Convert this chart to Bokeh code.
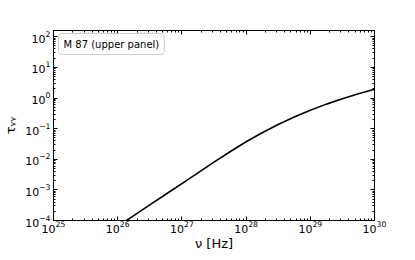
from bokeh.plotting import figure
from bokeh.models import LogAxis, Label, Range1d, LogTicker, CustomJSTickFormatter
from bokeh.embed import file_html
from bokeh.resources import INLINE

# data (log-log curve)
nu = [1.0e26, 1.78e26, 3.16e26, 5.62e26, 1.0e27, 1.78e27, 3.16e27, 5.62e27, 1.0e28,
      1.78e28, 3.16e28, 5.62e28, 1.0e29, 1.78e29, 3.16e29, 5.62e29, 1.0e30]
tau = [6.42e-5, 1.44e-4, 3.22e-4, 7.20e-4, 1.61e-3, 3.61e-3, 8.04e-3, 1.76e-2, 3.72e-2,
       7.37e-2, 0.137, 0.241, 0.400, 0.631, 0.950, 1.37, 1.92]

legend_text = "M 87 (upper panel)"
x_label = "ν [Hz]"
y_label = "τᵧᵧ"

FONT = "DejaVu Sans"

p = figure(frame_width=321, frame_height=190, x_axis_type="log", y_axis_type="log",
           x_range=Range1d(1e25, 1e30), y_range=Range1d(1e-4, 1.6e2),
           output_backend="svg", toolbar_location=None,
           min_border_left=44, min_border_right=34, min_border_top=30, min_border_bottom=28)

p.line(nu, tau, line_color="black", line_width=1.6)

p.xgrid.visible = False
p.ygrid.visible = False
p.outline_line_color = "black"
p.outline_line_width = 1
p.background_fill_color = "white"
p.border_fill_color = "white"

for ax in (p.xaxis[0], p.yaxis[0]):
    ax.ticker.num_minor_ticks = 10
    ax.major_tick_in = 4
    ax.major_tick_out = 0
    ax.minor_tick_in = 2
    ax.minor_tick_out = 0
    ax.axis_line_color = "black"
    ax.major_tick_line_color = "black"
    ax.minor_tick_line_color = "black"
    ax.major_label_text_font = FONT
    ax.major_label_text_font_size = "11px"
    ax.major_label_text_color = "black"
    ax.axis_label_text_font = FONT
    ax.axis_label_text_font_style = "normal"
    ax.axis_label_text_font_size = "13px"
    ax.axis_label_text_color = "black"

p.xaxis[0].axis_label = x_label
p.yaxis[0].axis_label = y_label
p.xaxis[0].major_label_standoff = 0
p.xaxis[0].axis_label_standoff = 0
p.yaxis[0].major_label_standoff = 3
p.yaxis[0].axis_label_standoff = 4

for loc in ("right", "above"):
    ax = LogAxis(ticker=LogTicker(num_minor_ticks=10),
                 formatter=CustomJSTickFormatter(code="return ' '"))
    ax.major_tick_in = 4
    ax.major_tick_out = 0
    ax.minor_tick_in = 2
    ax.minor_tick_out = 0
    ax.major_label_text_font_size = "2px"
    ax.major_label_standoff = 0
    ax.axis_line_color = "black"
    ax.major_tick_line_color = "black"
    ax.minor_tick_line_color = "black"
    p.add_layout(ax, loc)

lab = Label(x=5, y=187, x_units="screen", y_units="screen", text=legend_text,
            text_font=FONT, text_font_size="10px", text_color="black",
            text_baseline="top",
            background_fill_color="white", border_line_color="#cccccc",
            border_line_width=1, padding=5, border_radius=3)
p.add_layout(lab)

open("out.html", "w").write(file_html(p, INLINE))
